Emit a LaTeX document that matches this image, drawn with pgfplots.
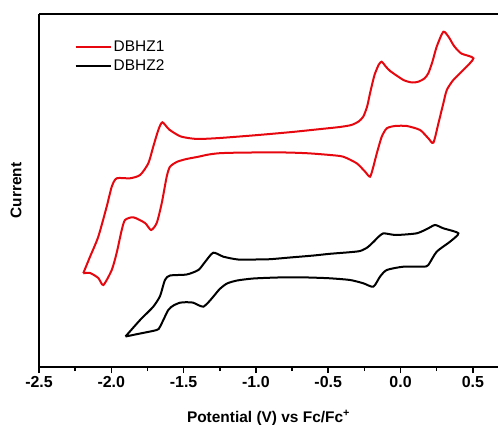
\documentclass[border=0pt]{standalone}
\usepackage{fontspec}
\setmainfont{Liberation Sans}
\usepackage{pgfplots}
\pgfplotsset{compat=1.18}
\definecolor{cvred}{RGB}{230,8,14}
\begin{document}
\begin{tikzpicture}
\begin{axis}[
  scale only axis,
  width=459bp, height=353bp,
  xmin=-2.5, xmax=0.674, ymin=0, ymax=353,
  axis lines*=left,
  axis line style={line width=1.8bp, -},
  xtick={-2.5,-2,-1.5,-1,-0.5,0,0.5},
  xticklabels={-2.5,-2.0,-1.5,-1.0,-0.5,0.0,0.5},
  minor xtick={-2.25,-1.75,-1.25,-0.75,-0.25,0.25},
  ytick=\empty,
  tick align=outside,
  major tick length=6bp, minor tick length=4bp,
  every tick/.style={line width=1.5bp, black},
  tick label style={font=\fontsize{16}{18}\selectfont\bfseries},
  every axis x label/.style={at={(axis description cs:0.5,0)}, yshift=-51bp, anchor=center, font=\fontsize{15.5}{18}\selectfont\bfseries},
  every axis y label/.style={at={(axis description cs:0,0.5)}, xshift=-23bp, rotate=90, anchor=center, font=\fontsize{15.5}{18}\selectfont\bfseries},
  xlabel={Potential (V) vs Fc/Fc\textsuperscript{+}},
  ylabel={Current},
  legend style={at={(axis description cs:0.077,0.93)}, anchor=north west, draw=none, fill=none, font=\fontsize{15.5}{18}\selectfont, row sep=3bp, inner sep=0pt},
  legend cell align=left,
  legend image code/.code={\draw[#1, line width=2.2bp] (0bp,0bp) -- (35bp,0bp);},
]
\addplot[cvred, line width=2bp, smooth, tension=0.4] coordinates {
(-2.194,93.7) (-2.147,110.3) (-2.090,130.3) (-2.032,160.3) (-1.997,180.3) (-1.963,188.7)
(-1.871,188.7) (-1.801,192) (-1.744,203.7) (-1.710,220.3) (-1.675,237) (-1.647,244.7)
(-1.600,237.5) (-1.525,230.8) (-1.45,228.6) (-1.387,228) (-1.25,229) (-1.0,231.8)
(-0.75,235) (-0.55,238) (-0.42,240) (-0.34,242) (-0.29,245.5) (-0.257,250.5)
(-0.230,261) (-0.211,273.7) (-0.180,292) (-0.150,302.5) (-0.130,305.3) (-0.105,301) (-0.072,296)
(0.020,287) (0.080,284.5) (0.123,285.3) (0.165,288.5) (0.192,293.7) (0.220,305) (0.250,320.3) (0.296,335.3) (0.335,329.5)
(0.370,321) (0.420,313.5) (0.504,308.7)
(0.434,297) (0.365,287) (0.320,277) (0.296,263.7) (0.262,243.7) (0.227,224.3)
(0.192,228.7) (0.135,237) (0.043,241) (-0.038,241) (-0.095,238.7) (-0.130,230.3)
(-0.164,213.7) (-0.188,200.3) (-0.211,190.3) (-0.245,195.3) (-0.303,203.7) (-0.396,210.3)
(-0.487,212) (-0.65,213.8) (-0.833,214.6) (-1.1,214.4) (-1.25,213.8) (-1.33,212.4)
(-1.40,210.2) (-1.48,208) (-1.545,205.2) (-1.594,200.3)
(-1.617,190.3) (-1.651,164) (-1.686,144) (-1.725,137) (-1.767,144) (-1.848,149.7)
(-1.905,147) (-1.928,137) (-1.963,114) (-1.997,97) (-2.055,82) (-2.090,89)
(-2.147,94) (-2.194,93.7)
};
\addlegendentry{DBHZ1}
\addplot[black, line width=2bp, smooth, tension=0.4] coordinates {
(-1.902,30.5) (-1.801,47) (-1.710,60.3) (-1.663,71) (-1.629,87) (-1.594,91.5)
(-1.479,92.5) (-1.398,97) (-1.352,105) (-1.295,114.3) (-1.225,110.3) (-1.124,107.5)
(-1.0,107.5) (-0.902,107.8) (-0.764,109.5) (-0.6,111.5) (-0.488,113.2) (-0.35,114.8)
(-0.280,116) (-0.23,119.5) (-0.188,125) (-0.150,130.5) (-0.119,133.7) (-0.075,132.8)
(-0.026,132) (0.112,133.7) (0.192,138.7) (0.239,142) (0.296,138.7) (0.400,133.7)
(0.342,125.3) (0.250,115.3) (0.192,102) (0.158,100.3) (0.020,100.3) (-0.095,97)
(-0.142,90.3) (-0.188,80.3) (-0.257,83.7) (-0.349,87) (-0.5,88.8) (-0.695,89.7)
(-0.85,89.5) (-1.018,88.5) (-1.13,86.5) (-1.20,83.5) (-1.25,78) (-1.295,70.3)
(-1.33,64.5) (-1.364,60.3) (-1.40,62) (-1.433,64.3) (-1.48,64.8) (-1.525,64.3)
(-1.57,61.5) (-1.606,57) (-1.663,40.3) (-1.686,37) (-1.80,33.5) (-1.902,30.5)
};
\addlegendentry{DBHZ2}
\draw[line width=1.8bp] (rel axis cs:0,1) -- (rel axis cs:1,1);
\end{axis}
\pgfresetboundingbox
\path[use as bounding box] (-39bp,-58bp) rectangle (459bp,367bp);
\end{tikzpicture}
\end{document}
